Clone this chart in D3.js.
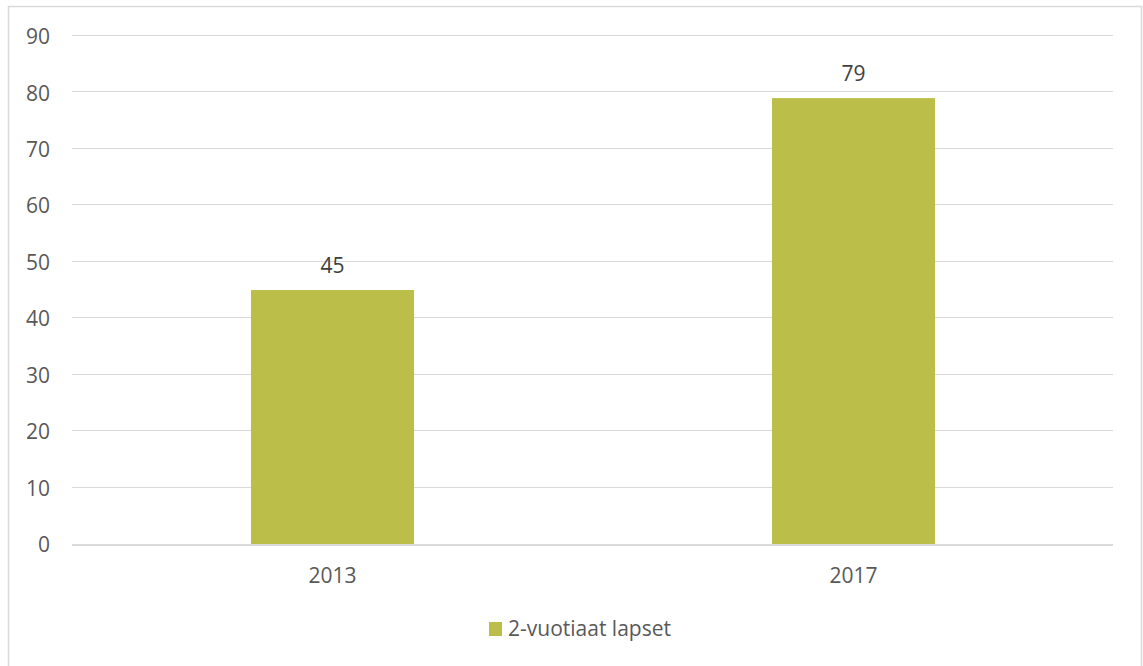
<!DOCTYPE html>
<html>
<head>
<meta charset="utf-8">
<script src="https://cdn.jsdelivr.net/npm/d3@7"></script>
<style>
  body { margin: 0; background: #fff; }
  svg { display: block; font-family: "Open Sans", "DejaVu Sans", sans-serif; }
</style>
</head>
<body>
<svg id="chart" width="1143" height="666"></svg>
<script>
var categories = ["2013", "2017"];
var values = [45, 79];
var yTicks = [0, 10, 20, 30, 40, 50, 60, 70, 80, 90];
var seriesName = "2-vuotiaat lapset";

var svg = d3.select("#chart");
var plotLeft = 72, plotRight = 1114, plotTop = 36, plotBottom = 544;
var barColor = "#bbbf4a";
var fontSize = "21px";

// outer frame
svg.append("rect")
    .attr("x", 8.5).attr("y", 6.5)
    .attr("width", 1133).attr("height", 700)
    .attr("fill", "none").attr("stroke", "#d9d9d9").attr("stroke-width", 1.5);

var x = d3.scaleBand()
    .domain(categories)
    .range([plotLeft, plotRight])
    .paddingInner(0.687)
    .paddingOuter(0.3435);

var y = d3.scaleLinear()
    .domain([0, 90])
    .range([plotBottom, plotTop]);

// gridlines
svg.append("g").selectAll("line")
    .data(yTicks.filter(function (d) { return d !== 0; }))
    .enter().append("line")
    .attr("x1", plotLeft).attr("x2", plotRight - 1)
    .attr("y1", function (d) { return Math.round(y(d)) - 0.5; })
    .attr("y2", function (d) { return Math.round(y(d)) - 0.5; })
    .attr("stroke", "#d9d9d9")
    .attr("stroke-width", 1);

// y tick labels
var yAxis = d3.axisLeft(y).tickValues(yTicks).tickSize(0).tickPadding(0);
var yg = svg.append("g").attr("transform", "translate(50,0)").call(yAxis);
yg.select(".domain").remove();
yg.selectAll("text")
    .attr("fill", "#595959")
    .attr("dy", "0.36em")
    .style("font-size", fontSize)
    .style("font-family", "'Open Sans', sans-serif");

// bars
svg.append("g").selectAll("rect")
    .data(values)
    .enter().append("rect")
    .attr("x", function (d, i) { return x(categories[i]); })
    .attr("width", x.bandwidth())
    .attr("y", function (d) { return y(d); })
    .attr("height", function (d) { return y(0) - y(d); })
    .attr("fill", barColor);

// zero line on top
svg.append("line")
    .attr("x1", plotLeft).attr("x2", plotRight - 1)
    .attr("y1", y(0) + 1).attr("y2", y(0) + 1)
    .attr("stroke", "#d9d9d9").attr("stroke-width", 2);

// value labels
svg.append("g").selectAll("text")
    .data(values)
    .enter().append("text")
    .attr("x", function (d, i) { return x(categories[i]) + x.bandwidth() / 2; })
    .attr("y", function (d) { return y(d) - 17; })
    .attr("text-anchor", "middle")
    .attr("fill", "#404040")
    .style("font-size", fontSize)
    .text(function (d) { return d; });

// x axis labels
var xAxis = d3.axisBottom(x).tickSize(0).tickPadding(0);
var xg = svg.append("g").attr("transform", "translate(0,568)").call(xAxis);
xg.select(".domain").remove();
xg.selectAll("text")
    .attr("fill", "#595959")
    .attr("dy", "0.71em")
    .style("font-size", fontSize)
    .style("font-family", "'Open Sans', sans-serif");

// legend
var lg = svg.append("g").attr("transform", "translate(489,622)");
lg.append("rect").attr("width", 13).attr("height", 14).attr("fill", barColor);
lg.append("text")
    .attr("x", 19).attr("y", 14)
    .attr("fill", "#595959")
    .style("font-size", fontSize)
    .text(seriesName);
</script>
</body>
</html>
